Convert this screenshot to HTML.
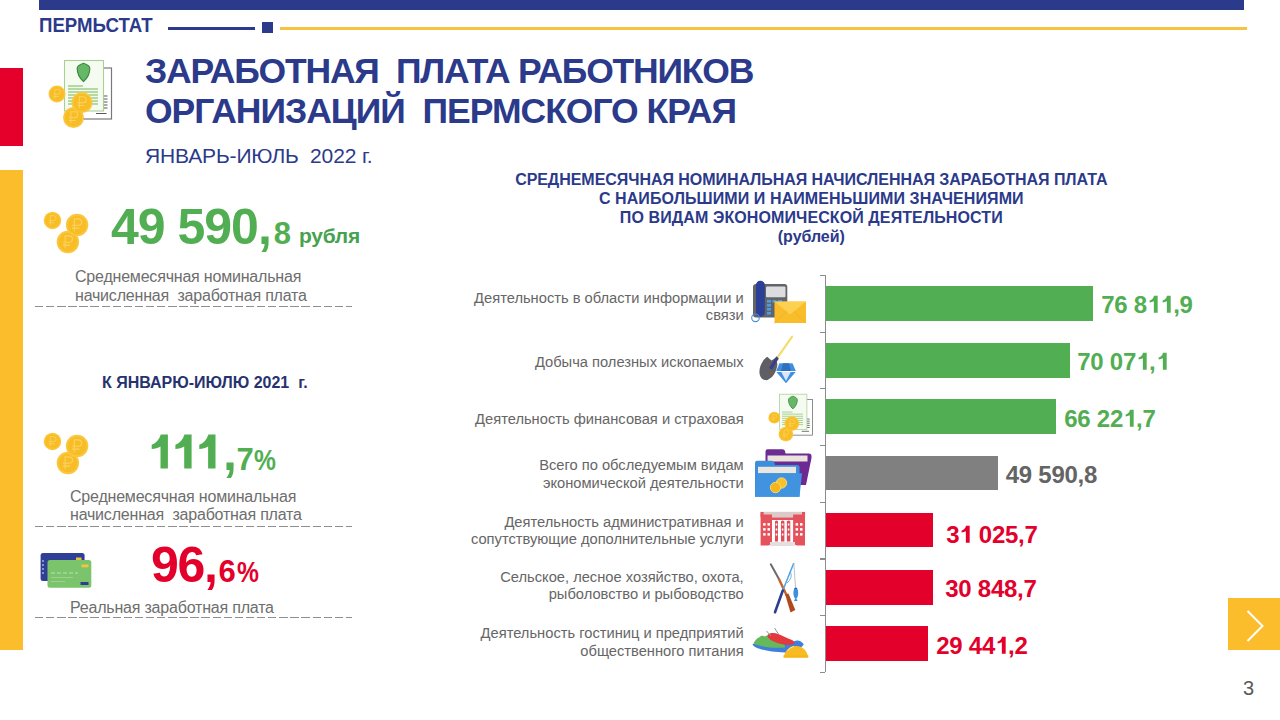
<!DOCTYPE html>
<html><head><meta charset="utf-8">
<style>
*{margin:0;padding:0;box-sizing:border-box}
html,body{width:1280px;height:720px;overflow:hidden;background:#fff}
body{position:relative;font-family:"Liberation Sans",sans-serif}
.a{position:absolute;white-space:nowrap}
.blue{color:#2b3a8a}
.b{font-weight:bold}
.gr{color:#6e6e6e;font-size:16px;line-height:18.6px;letter-spacing:-0.2px}
.lbl{position:absolute;right:536.3px;text-align:right;font-size:14.7px;line-height:17.5px;color:#666;white-space:nowrap}
.bar{position:absolute;left:826px;height:34.4px}
.val{position:absolute;font-weight:bold;font-size:24px;line-height:24px;letter-spacing:-0.25px;white-space:nowrap}
.dash{position:absolute;left:35px;width:317px;height:1.3px;background:repeating-linear-gradient(90deg,#8f8f8f 0 8.3px,transparent 8.3px 11.1px)}
svg.ov{position:absolute;left:0;top:0}
.one{position:relative;color:transparent}
.one svg{position:absolute;left:0;top:0;width:0.556em;height:1.117em;overflow:visible}

</style></head><body>
<!-- top bar -->
<div class="a" style="left:39px;top:0;width:1205px;height:10px;background:#2b3a8a"></div>
<div class="a b blue" style="left:39px;top:13px;font-size:21px;line-height:24px;transform:scaleX(0.888);transform-origin:0 0">ПЕРМЬСТАТ</div>
<div class="a" style="left:168px;top:27px;width:87px;height:3px;background:#2b3a8a"></div>
<div class="a" style="left:262px;top:22px;width:11px;height:11px;background:#2b3a8a"></div>
<div class="a" style="left:280px;top:27px;width:967px;height:3px;background:#f5c242"></div>
<!-- left accents -->
<div class="a" style="left:0;top:68px;width:22.5px;height:78px;background:#e4002b"></div>
<div class="a" style="left:0;top:170px;width:22.5px;height:480px;background:#fbbd2c"></div>

<!-- title -->
<div class="a b blue" style="left:145px;top:50.5px;font-size:35.5px;line-height:40px;letter-spacing:-1.2px">ЗАРАБОТНАЯ&nbsp; ПЛАТА РАБОТНИКОВ</div>
<div class="a b blue" style="left:145px;top:91.2px;font-size:35.5px;line-height:40px;letter-spacing:-1.0px">ОРГАНИЗАЦИЙ&nbsp; ПЕРМСКОГО КРАЯ</div>
<div class="a blue" style="left:145px;top:143.5px;font-size:21px;line-height:24px;letter-spacing:-0.15px">ЯНВАРЬ-ИЮЛЬ&nbsp; 2022 г.</div>

<!-- left panel -->
<div class="a b" style="left:111px;top:200px;font-size:50px;line-height:54px;letter-spacing:-1px;color:#52ae52">49 590,<span style="font-size:31px;letter-spacing:0;margin-left:3px">8</span><span style="position:relative;top:-1.5px;font-size:21px;margin-left:8px;letter-spacing:-0.3px;color:#46a24f">рубля</span></div>
<div class="a gr" style="left:75px;top:268px">Среднемесячная номинальная<br>начисленная&nbsp; заработная плата</div>
<div class="dash" style="top:305.5px"></div>

<div class="a b" style="left:102px;top:373.5px;font-size:16px;line-height:18px;color:#27336e">К ЯНВАРЮ-ИЮЛЮ 2021&nbsp; г.</div>
<div class="a b" style="left:149px;top:425.5px;font-size:50px;line-height:54px;letter-spacing:-1.3px;color:#52ae52"><span style="color:transparent">111</span>,<span style="font-size:31px;letter-spacing:0;margin-left:1px">7</span><span style="display:inline-block;font-size:29px;font-weight:bold;transform:scaleX(0.85);transform-origin:0 0;margin-left:0.5px">%</span></div>
<div class="a gr" style="left:70px;top:487.9px">Среднемесячная номинальная<br>начисленная&nbsp; заработная плата</div>
<div class="dash" style="top:525.7px"></div>

<div class="a b" style="left:151px;top:538px;font-size:50px;line-height:54px;letter-spacing:-1.3px;color:#e3002b">96,<span style="font-size:31px;letter-spacing:0;margin-left:2px">6</span><span style="display:inline-block;font-size:29px;font-weight:bold;transform:scaleX(0.85);transform-origin:0 0;margin-left:1.5px">%</span></div>
<div class="a gr" style="left:70px;top:598.7px">Реальная заработная плата</div>
<div class="dash" style="top:617px"></div>

<!-- chart title -->
<div class="a b blue" style="left:511.3px;top:170px;width:600px;text-align:center;font-size:16px;line-height:19px;letter-spacing:-0.05px">СРЕДНЕМЕСЯЧНАЯ НОМИНАЛЬНАЯ НАЧИСЛЕННАЯ ЗАРАБОТНАЯ ПЛАТА<br><span style="letter-spacing:0.09px">С НАИБОЛЬШИМИ И НАИМЕНЬШИМИ ЗНАЧЕНИЯМИ</span><br><span style="letter-spacing:0.1px">ПО ВИДАМ ЭКОНОМИЧЕСКОЙ ДЕЯТЕЛЬНОСТИ</span><br>(рублей)</div>

<!-- axis -->
<div class="a" style="left:824.5px;top:275px;width:1.2px;height:397px;background:#8c8c8c"></div>

<div class="a" style="left:819.7px;top:275.0px;width:5px;height:1.2px;background:#8c8c8c"></div><div class="a" style="left:819.7px;top:331.7px;width:5px;height:1.2px;background:#8c8c8c"></div><div class="a" style="left:819.7px;top:388.3px;width:5px;height:1.2px;background:#8c8c8c"></div><div class="a" style="left:819.7px;top:445.0px;width:5px;height:1.2px;background:#8c8c8c"></div><div class="a" style="left:819.7px;top:501.7px;width:5px;height:1.2px;background:#8c8c8c"></div><div class="a" style="left:819.7px;top:558.4px;width:5px;height:1.2px;background:#8c8c8c"></div><div class="a" style="left:819.7px;top:615.0px;width:5px;height:1.2px;background:#8c8c8c"></div><div class="a" style="left:819.7px;top:671.7px;width:5px;height:1.2px;background:#8c8c8c"></div>
<!-- rows -->
<div class="lbl" style="top:289.6px">Деятельность в области информации и<br>связи</div>
<div class="bar" style="top:286.2px;width:267px;background:#52ae52"></div>
<div class="val" style="left:1101.2px;top:293.0px;color:#52ae52">76 8<span class="one">1<svg viewBox="0 0 556 1117"><path d="M445 198V905H285V432C250 449 170 475 109 482V400C190 379 262 317 292 198Z" fill="#52ae52"/></svg></span><span class="one">1<svg viewBox="0 0 556 1117"><path d="M445 198V905H285V432C250 449 170 475 109 482V400C190 379 262 317 292 198Z" fill="#52ae52"/></svg></span>,9</div>

<div class="lbl" style="top:354.1px">Добыча полезных ископаемых</div>
<div class="bar" style="top:343.2px;width:244px;background:#52ae52"></div>
<div class="val" style="left:1077.2px;top:350.0px;color:#52ae52">70 07<span class="one">1<svg viewBox="0 0 556 1117"><path d="M445 198V905H285V432C250 449 170 475 109 482V400C190 379 262 317 292 198Z" fill="#52ae52"/></svg></span>,<span class="one">1<svg viewBox="0 0 556 1117"><path d="M445 198V905H285V432C250 449 170 475 109 482V400C190 379 262 317 292 198Z" fill="#52ae52"/></svg></span></div>

<div class="lbl" style="top:410.8px">Деятельность финансовая и страховая</div>
<div class="bar" style="top:399.2px;width:230px;background:#52ae52"></div>
<div class="val" style="left:1064.2px;top:407.0px;color:#52ae52">66 22<span class="one">1<svg viewBox="0 0 556 1117"><path d="M445 198V905H285V432C250 449 170 475 109 482V400C190 379 262 317 292 198Z" fill="#52ae52"/></svg></span>,7</div>

<div class="lbl" style="top:457.3px">Всего по обследуемым видам<br>экономической деятельности</div>
<div class="bar" style="top:456.1px;width:172px;background:#808080"></div>
<div class="val" style="left:1005.7px;top:463.0px;color:#646464">49 590,8</div>

<div class="lbl" style="top:513.5px">Деятельность административная и<br>сопутствующие дополнительные услуги</div>
<div class="bar" style="top:513.1px;width:107px;background:#e3002b"></div>
<div class="val" style="left:946.2px;top:523.0px;color:#e3002b">3<span class="one">1<svg viewBox="0 0 556 1117"><path d="M445 198V905H285V432C250 449 170 475 109 482V400C190 379 262 317 292 198Z" fill="#e3002b"/></svg></span> 025,7</div>

<div class="lbl" style="top:568.9px">Сельское, лесное хозяйство, охота,<br>рыболовство и рыбоводство</div>
<div class="bar" style="top:570.3px;width:107px;background:#e3002b"></div>
<div class="val" style="left:945.2px;top:577.0px;color:#e3002b">30 848,7</div>

<div class="lbl" style="top:625.2px">Деятельность гостиниц и предприятий<br>общественного питания</div>
<div class="bar" style="top:626.4px;width:102px;background:#e3002b"></div>
<div class="val" style="left:936.2px;top:634.0px;color:#e3002b">29 44<span class="one">1<svg viewBox="0 0 556 1117"><path d="M445 198V905H285V432C250 449 170 475 109 482V400C190 379 262 317 292 198Z" fill="#e3002b"/></svg></span>,2</div>

<!-- next button -->
<div class="a" style="left:1228px;top:598px;width:52px;height:52px;background:#fbbd2c"></div>
<svg class="a" style="left:1228px;top:598px" width="52" height="52"><polyline points="19.5,13 34.5,28 19.5,43" fill="none" stroke="#fff" stroke-width="2"/></svg>
<div class="a" style="left:1243px;top:676px;font-size:20px;line-height:24px;color:#595959">3</div>

<svg class="ov" width="1280" height="720"><path d="M167.9 434.6V468.6H160.5V446.4C158.0 447.9 155.0 448.6 151.7 448.9V444.8C156.0 443.2 159.3 439.6 160.8 434.6ZM191.6 434.6V468.6H184.2V446.4C181.7 447.9 178.7 448.6 175.4 448.9V444.8C179.7 443.2 183.0 439.6 184.5 434.6ZM215.5 434.6V468.6H208.1V446.4C205.6 447.9 202.6 448.6 199.3 448.9V444.8C203.6 443.2 206.9 439.6 208.4 434.6Z" fill="#52ae52"/></svg>
<!-- ICONS -->
<svg class="ov" width="1280" height="720" viewBox="0 0 1280 720">
<defs>
<g id="coin">
<circle r="10" fill="#fac73c"/>
<circle r="8.3" fill="#f8bd26"/>
<path d="M-2.5 5.5V-5.5H1.2A2.8 2.8 0 0 1 1.2 0.2H-4.5M-4.5 2.8H2" fill="none" stroke="#fad35e" stroke-width="1"/>
</g>
<g id="coins3">
<use href="#coin" transform="translate(52.5 220.4) scale(0.875)"/>
<use href="#coin" transform="translate(67.9 242) scale(1.12)"/>
<use href="#coin" transform="translate(77.1 225) scale(1.12)"/>
</g>
<g id="doccoins">
<!-- back doc -->
<rect x="72" y="68" width="39.5" height="51" fill="#fff" stroke="#77787b" stroke-width="1.2"/>
<path d="M103.5 96h4M103.5 99h4M103.5 102h4M103.5 105h4M103.5 108h4M96 113.5h10.5" stroke="#58595b" stroke-width="1.2"/>
<!-- front doc -->
<rect x="64.5" y="60.5" width="39" height="50.5" fill="#f6fbf1" stroke="#a9cf95" stroke-width="1.1"/>
<path d="M83.5 63.3C80 64.5 77.2 66 77.2 68.5C77.2 74 79.5 78 83.5 81.5C87.5 78 89.8 74 89.8 68.5C89.8 66 87 64.5 83.5 63.3Z" fill="#66b866" stroke="#3d8b45" stroke-width="1.2"/>
<path d="M68 86h15M68 89h30M68 92h30M68 95h30M68 98h30M68 101h30M68 104h30" stroke="#9fcf86" stroke-width="1.3"/>
<use href="#coin" transform="translate(57 94) scale(0.85)"/>
<use href="#coin" transform="translate(73.5 117.5) scale(1.05)"/>
<use href="#coin" transform="translate(82 102.5) scale(1.05)"/>
</g>
</defs>

<!-- title icon -->
<use href="#doccoins"/>
<!-- left coins -->
<use href="#coins3"/>
<use href="#coins3" transform="translate(0 221)"/>

<!-- cards -->
<rect x="40.6" y="553" width="44" height="28" rx="2.5" fill="#2f3f96"/>
<rect x="76" y="557.5" width="5.5" height="2.5" fill="#e9c23a"/>
<rect x="47.5" y="560" width="43.8" height="27.7" rx="2.5" fill="#7cc46c"/>
<rect x="81.5" y="564.5" width="7" height="2.8" fill="#f2c53b"/>
<path d="M51 573h27" stroke="#b9e0ae" stroke-width="1.2" stroke-dasharray="4 2"/>
<path d="M51 577.5h22M51 581.5h14" stroke="#a5d596" stroke-width="0.8"/>
<rect x="80.5" y="582" width="8" height="3" fill="#2d3f8e"/>
<path d="M43 560v16" stroke="#e6e8f5" stroke-width="1" stroke-dasharray="2 2"/>

<!-- row1 phone+envelope -->
<rect x="753" y="284" width="34.3" height="33.6" rx="3" fill="#636468"/>
<rect x="766" y="286.5" width="19.5" height="10.8" rx="1" fill="#dcdde1"/>
<g fill="#4a9ee8"><rect x="767" y="300" width="4" height="2.6"/><rect x="772.5" y="300" width="4" height="2.6"/><rect x="778" y="300" width="4" height="2.6"/>
<rect x="767" y="304" width="4" height="2.6"/><rect x="767" y="308" width="4" height="2.6"/><rect x="767" y="312" width="4" height="2.6"/></g>
<rect x="756" y="280.7" width="8.8" height="36" rx="4.2" fill="#2a3f95"/>
<circle cx="755.5" cy="317.8" r="3.8" fill="none" stroke="#4a8fd8" stroke-width="1.1"/>
<rect x="774.5" y="301.6" width="31.5" height="21.4" fill="#f9bd2b"/>
<path d="M774.5 301.6L790.2 314.5L806 301.6Z" fill="#fcd050"/>
<path d="M774.5 323L787 311M806 323L793.5 311" stroke="#f2b01a" stroke-width="0.8"/>

<!-- row2 shovel+diamond -->
<path d="M792.1 336.7L777.6 357.4" stroke="#f3dc6e" stroke-width="2.2" stroke-linecap="round"/>
<path d="M767.2 356.8L771.5 360.5L776 357.5L777.4 364.6C776.5 372 773 378 767 380.2C762 380.5 759.4 376.5 759.4 371.9C759.4 366 762.5 360 767.2 356.8Z" fill="#5e5f64"/>
<path d="M776.4 356.3L778.8 358.5L772 369.5L769 368Z" fill="#3d3f88"/>
<circle cx="771.5" cy="373.3" r="1.5" fill="#7d5a40"/>
<path d="M779.5 363.3H792.5L796 371.5L786 383.3L776 371.5Z" fill="#3f8fe0"/>
<path d="M783 363.3L781 371.5H791L789 363.3Z" fill="#2f6fc2"/>
<path d="M781 371.5L786 381L791 371.5Z" fill="#d8e8f8"/>
<path d="M776 371.5H796" stroke="#fff" stroke-width="1"/>

<!-- row3 doc+coins -->
<g transform="translate(779.6 394.2) scale(0.7) translate(-64.5 -60.5)">
<use href="#doccoins"/>
</g>

<!-- row4 folders -->
<path d="M767.5 449.2H782.5Q784.5 449.2 785 451L785.5 453.5H809Q811.5 453.5 811.5 456V458L806 485H765.5V452Q765.5 449.2 767.5 449.2Z" fill="#6c2b93"/>
<rect x="767.5" y="455.5" width="40" height="6" fill="#e9e3dc"/>
<path d="M757 460.8H771.5Q773.5 460.8 774.5 463L775 465H797Q799.5 465 799.5 467.5V496.7H755V463Q755 460.8 757 460.8Z" fill="#3d8fdc"/>
<rect x="758" y="466.8" width="38" height="6.5" fill="#eae6e0"/>
<path d="M757 473.3H802L799.5 496.7H755Z" fill="#4193df"/>
<circle cx="781.5" cy="483" r="5.2" fill="#f9c12a" stroke="#fde27a" stroke-width="0.8"/>
<circle cx="775.5" cy="487.5" r="5.2" fill="#f7b51c" stroke="#fde27a" stroke-width="0.8"/>

<!-- row5 building -->
<rect x="760.2" y="511.8" width="45" height="6" fill="#dcc9ca"/>
<path d="M760.6 514.4H772V542C771 544 769.5 545.6 768 545.6H760.6Z" fill="#e5525b"/>
<path d="M805 514.4H793.1V542C794.1 544 795.6 545.6 797.1 545.6H805Z" fill="#e5525b"/>
<rect x="760.6" y="512" width="3" height="4" fill="#e5525b"/>
<rect x="802" y="512" width="3" height="4" fill="#e5525b"/>
<rect x="771" y="517.5" width="23" height="2.5" fill="#e5525b"/>
<path d="M775 541.5V521.5Q776.5 519.5 778 521.5V541.5ZM781 541.5V521.5Q782.7 519.5 784.4 521.5V541.5ZM786.9 541.5V521.5Q788.6 519.5 790.3 521.5V541.5Z" fill="#e04b57"/>
<rect x="770" y="542" width="25" height="4" fill="#e4dede"/>
<g fill="#fff">
<rect x="763.1" y="523.1" width="2.5" height="2.5"/><rect x="767.5" y="523.1" width="2.5" height="2.5"/>
<rect x="763.1" y="528.1" width="2.5" height="2.5"/><rect x="767.5" y="528.1" width="2.5" height="2.5"/>
<rect x="763.1" y="533.1" width="2.5" height="2.5"/><rect x="767.5" y="533.1" width="2.5" height="2.5"/>
<rect x="795.6" y="523.1" width="2.5" height="2.5"/><rect x="800" y="523.1" width="2.5" height="2.5"/>
<rect x="795.6" y="528.1" width="2.5" height="2.5"/><rect x="800" y="528.1" width="2.5" height="2.5"/>
<rect x="795.6" y="533.1" width="2.5" height="2.5"/><rect x="800" y="533.1" width="2.5" height="2.5"/>
<rect x="775.7" y="523.5" width="1.6" height="2"/><rect x="781.8" y="523.5" width="1.6" height="2"/><rect x="787.8" y="523.5" width="1.6" height="2"/>
<rect x="775.7" y="528.5" width="1.6" height="2"/><rect x="781.8" y="528.5" width="1.6" height="2"/><rect x="787.8" y="528.5" width="1.6" height="2"/>
<rect x="775.7" y="533.5" width="1.6" height="2"/><rect x="781.8" y="533.5" width="1.6" height="2"/><rect x="787.8" y="533.5" width="1.6" height="2"/>
</g>

<!-- row6 rifle+rod -->
<path d="M770.8 564.3L778.8 578.8" stroke="#6b6c70" stroke-width="2" stroke-linecap="round"/>
<path d="M778.8 578.8L786.7 595.5" stroke="#c4622a" stroke-width="2.4"/>
<path d="M785.2 594.5L788.5 593.5L795.3 610L790.5 612.5Z" fill="#b04a1e"/>
<path d="M793.8 563L782.5 591.3" stroke="#4fa3e6" stroke-width="1.5"/>
<path d="M790.5 572Q793 578 787 583" stroke="#4fa3e6" stroke-width="0.8" fill="none"/>
<path d="M782.8 590.5L775 612.2" stroke="#2c3f8e" stroke-width="2.6" stroke-linecap="round"/>
<path d="M793.8 563L795.5 587.5" stroke="#a9b1bb" stroke-width="0.8"/>
<ellipse cx="795.8" cy="593" rx="2.4" ry="5.8" fill="#3f8fe0"/>
<path d="M795.8 597.5L794 601L797.6 601Z" fill="#3f8fe0"/>
<path d="M794.5 588.5H797" stroke="#2a5ea8" stroke-width="1"/>

<!-- row7 food -->
<path d="M752.5 644.4C754 648 765 651.5 785 652.6C793 652.8 800 649 803.8 644.4C802 641.5 798.5 640 796.9 640.6C792 642.5 780 644 770 643.5C762 643.2 755 642.5 752.5 644.4Z" fill="#3f7fdc"/>
<path d="M753.5 643.5C755 640 757 638 759.5 637.2C761 635.5 763.5 635.6 765 636.5C767 634.8 770 635 772 636.5C775 635.5 779 638 781 640C783 642 785 645 785 647.5C775 648.5 761 647 753.5 643.5Z" fill="#66b95a"/>
<path d="M768 634.5C771 632.5 775 632.8 778 634C783 636 788 638.5 792 640C794.5 641 795 643 793.7 644C790 645.5 784 645 779 643.5C774 642 770 640 768.5 638C767.5 637 767.3 635.5 768 634.5Z" fill="#e4383f"/>
<path d="M766.5 631L771 636M774.5 628L778.5 634" stroke="#8b95a3" stroke-width="1"/>
<path d="M783.8 657.5A12.2 12.7 0 0 1 808.1 657.5Z" fill="#f9bb22"/>
<rect x="783.5" y="655.3" width="24.8" height="2.3" fill="#f6b51a"/>
<path d="M787.5 651A9.5 9.5 0 0 1 794 646.3" stroke="#fde9a0" stroke-width="1" fill="none"/>
</svg>

</body></html>
